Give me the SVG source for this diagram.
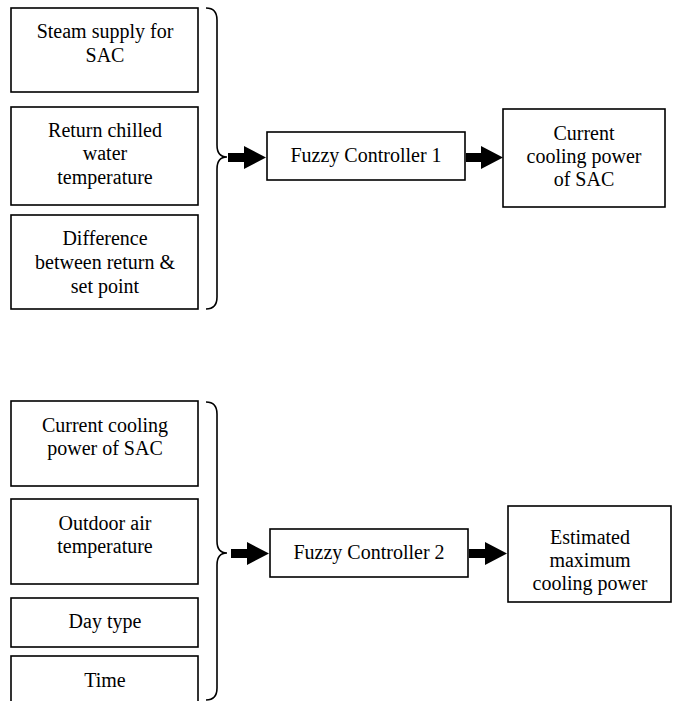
<svg xmlns="http://www.w3.org/2000/svg" width="675" height="701" viewBox="0 0 675 701">
<style>
.box{fill:#fff;stroke:#000;stroke-width:1.6}
.t{font-family:"Liberation Serif","Times New Roman",serif;font-size:20px;fill:#000;text-anchor:middle}
.brace{fill:none;stroke:#000;stroke-width:1.6}
.arr{fill:#000;stroke:none}
</style>
<rect width="675" height="701" fill="#fff"/>
<g id="n_steam"><rect class="box" x="11" y="8" width="187" height="84"/><text class="t" x="105" y="38">Steam supply for</text><text class="t" x="105" y="62">SAC</text></g>
<g id="n_return"><rect class="box" x="11" y="107" width="187" height="98"/><text class="t" x="105" y="137">Return chilled</text><text class="t" x="105" y="160">water</text><text class="t" x="105" y="184">temperature</text></g>
<g id="n_diff"><rect class="box" x="11" y="215" width="187" height="94"/><text class="t" x="105" y="245">Difference</text><text class="t" x="105" y="269">between return &amp;</text><text class="t" x="105" y="293">set point</text></g>
<g id="n_fc1"><rect class="box" x="267" y="132" width="198" height="48"/><text class="t" x="366" y="162">Fuzzy Controller 1</text></g>
<g id="n_out1"><rect class="box" x="503" y="109" width="162" height="98"/><text class="t" x="584" y="140">Current</text><text class="t" x="584" y="163">cooling power</text><text class="t" x="584" y="186">of SAC</text></g>
<g id="n_cur"><rect class="box" x="11" y="401" width="187" height="85"/><text class="t" x="105" y="432">Current cooling</text><text class="t" x="105" y="455">power of SAC</text></g>
<g id="n_outdoor"><rect class="box" x="11" y="499" width="187" height="85"/><text class="t" x="105" y="530">Outdoor air</text><text class="t" x="105" y="553">temperature</text></g>
<g id="n_day"><rect class="box" x="11" y="598" width="187" height="49"/><text class="t" x="105" y="628">Day type</text></g>
<g id="n_time"><rect class="box" x="11" y="656" width="187" height="60"/><text class="t" x="105" y="687">Time</text></g>
<g id="n_fc2"><rect class="box" x="270" y="529" width="198" height="48"/><text class="t" x="369" y="559">Fuzzy Controller 2</text></g>
<g id="n_out2"><rect class="box" x="508" y="506" width="163" height="96"/><text class="t" x="590" y="544">Estimated</text><text class="t" x="590" y="567">maximum</text><text class="t" x="590" y="590">cooling power</text></g>
<g id="connectors">
<path class="brace" d="M206,8 Q217,8 217,20 L217,145 Q217,157 227,157 Q217,157 217,169 L217,297 Q217,309 206,309"/>
<path class="brace" d="M206,402 Q217,402 217,414 L217,541 Q217,553 227,553 Q217,553 217,565 L217,688 Q217,700 206,700"/>
<path class="arr" d="M228,153 L244,153 L244,146 L266,157.5 L244,169 L244,162 L228,162 Z"/>
<path class="arr" d="M466,153 L481,153 L481,146 L503,157.5 L481,169 L481,162 L466,162 Z"/>
<path class="arr" d="M231,549 L247,549 L247,542 L269,553.5 L247,565 L247,558 L231,558 Z"/>
<path class="arr" d="M469,549 L485,549 L485,542 L507,553.5 L485,565 L485,558 L469,558 Z"/>
</g>
</svg>
